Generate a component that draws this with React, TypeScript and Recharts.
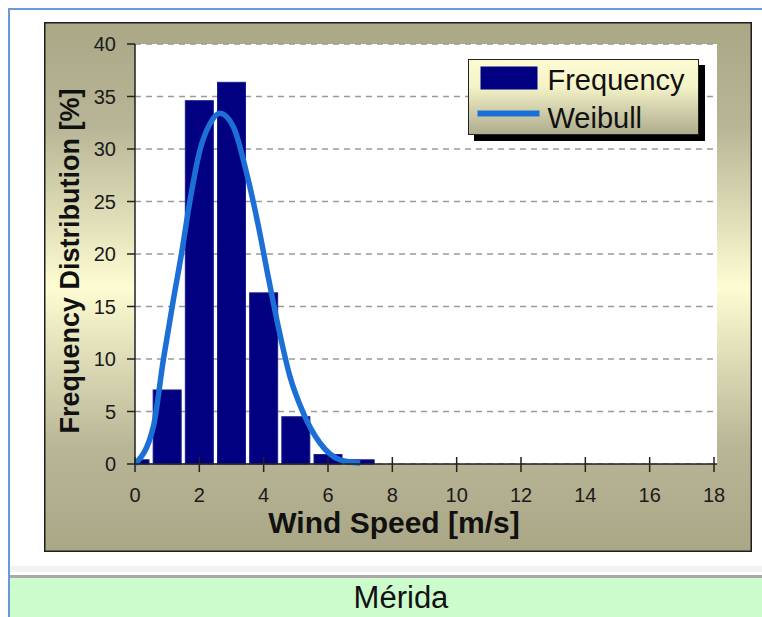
import {
  Bar,
  CartesianGrid,
  ComposedChart,
  Label,
  Legend,
  Line,
  XAxis,
  YAxis,
} from "recharts";

const FONT = "'Liberation Sans', Arial, Helvetica, sans-serif";

// histogram, 1 m/s bins (bin centre in m/s) -> % of time
const binCentres = [0, 1, 2, 3, 4, 5, 6, 7];
const frequency = [0.4, 7.05, 34.6, 36.35, 16.3, 4.5, 0.9, 0.4];

// weibull fit
const weibullX = [0, 0.57, 0.88, 1.19, 1.45, 1.71, 2.02, 2.33, 2.64, 3.06, 3.47, 3.84, 4.15, 4.46, 4.82, 5.24, 5.75, 6.38, 7.0];
const weibullY = [0, 3.55, 9.9, 15.6, 20.1, 25.1, 29.9, 32.4, 33.4, 32.1, 27.7, 22.6, 17.7, 13.0, 8.3, 4.8, 2.0, 0.4, 0.1];

const xTicks = [0, 2, 4, 6, 8, 10, 12, 14, 16, 18];
const yTicks = [0, 5, 10, 15, 20, 25, 30, 35, 40];

const bins = binCentres.map((x, i) => ({ x, freq: frequency[i] }));
const weibull = weibullX.map((x, i) => ({ x, weibull: weibullY[i] }));

const AXIS = { stroke: "#222", strokeWidth: 1.5 };
const BAR_W = 28;

function XTick(props: any) {
  const { x, y, payload } = props;
  const axisY = y - 24;
  return (
    <g>
      <line x1={x} x2={x} y1={axisY - 7} y2={axisY + 8} stroke="#222" strokeWidth={1.5} />
      <text x={x} y={y} dy={14} textAnchor="middle" fontSize={20} fill="#1a1a1a" fontFamily={FONT}>
        {payload.value}
      </text>
    </g>
  );
}

// recharts squeezes bars on a numeric axis; keep the centre it gives, fix the width
function BinBar(props: any) {
  const { x, y, width, height } = props;
  if (height == null || height <= 0) return null;
  const cx = x + width / 2;
  return <rect x={cx - BAR_W / 2} y={y} width={BAR_W} height={height} fill="#000080" stroke="#1c1c8c" strokeWidth={1} />;
}

function YTitle(props: any) {
  const vb = props.viewBox;
  const cx = 26;
  const cy = vb.y + vb.height / 2 + 7;
  return (
    <text
      x={cx}
      y={cy}
      transform={`rotate(-90 ${cx} ${cy})`}
      textAnchor="middle"
      dominantBaseline="central"
      fontSize={27}
      fontWeight="bold"
      fill="#111"
      fontFamily={FONT}
    >
      Frequency Distribution [%]
    </text>
  );
}

function XTitle() {
  return (
    <text x={350} y={511} textAnchor="middle" fontSize={30} fontWeight="bold" fill="#111" fontFamily={FONT}>
      Wind Speed [m/s]
    </text>
  );
}

function LegendBox(props: any) {
  const payload = props.payload || [];
  return (
    <div
      style={{
        width: 231,
        height: 76,
        boxSizing: "border-box",
        border: "1.5px solid #222",
        background: "linear-gradient(#fdfbd2 0%, #f5f3c8 35%, #aeac8e 100%)",
        boxShadow: "6px 6px 0 #000",
      }}
    >
      <svg width={228} height={73} style={{ display: "block" }}>
        {payload.map((entry: any, i: number) => {
          const base = 29.5 + i * 38;
          return (
            <g key={entry.value}>
              {entry.type === "line" ? (
                <line x1={8.5} x2={70.5} y1={base - 14} y2={base - 14} stroke={entry.color} strokeWidth={6} />
              ) : (
                <rect x={11.5} y={base - 23} width={57} height={23} fill={entry.color} />
              )}
              <text x={78.5} y={base} fontSize={29} fill="#111" fontFamily={FONT}>
                {entry.value}
              </text>
            </g>
          );
        })}
      </svg>
    </div>
  );
}

export default function App() {
  return (
    <div style={{ position: "relative", width: 762, height: 617, background: "#fff", overflow: "hidden", fontFamily: FONT }}>
      <style>{"body{margin:0;overflow:hidden}"}</style>
      {/* page frame */}
      <div style={{ position: "absolute", left: 8, top: 8, width: 754, height: 2, background: "#6b98d8" }} />
      <div style={{ position: "absolute", left: 8, top: 8, width: 2, height: 609, background: "#6b98d8" }} />
      <div style={{ position: "absolute", left: 10, top: 566, width: 752, height: 6, background: "#f2f2f2" }} />
      <div style={{ position: "absolute", left: 10, top: 575, width: 752, height: 3, background: "#a9a9a9" }} />
      <div
        style={{
          position: "absolute",
          left: 10,
          top: 578,
          width: 752,
          height: 39,
          background: "#ccfccc",
          textAlign: "center",
          paddingLeft: 30,
          boxSizing: "border-box",
          fontSize: 31,
          lineHeight: "39px",
          color: "#111",
        }}
      >
        Mérida
      </div>

      {/* chart frame */}
      <div
        style={{
          position: "absolute",
          left: 44,
          top: 22,
          width: 708,
          height: 530,
          background: "linear-gradient(#a9a786 0%, #b8b696 20%, #fdfcd2 50%, #b8b696 80%, #a9a786 100%)",
          boxShadow: "inset 0 0 0 1.5px #1e1e1e",
        }}
      >
        <ComposedChart width={708} height={530} data={bins} margin={{ top: 22, right: 35, left: 0, bottom: 0 }}>
          <CartesianGrid vertical={false} fill="#fff" fillOpacity={1} stroke="#9a9a9a" strokeWidth={1.5} strokeDasharray="6 5" />
          <XAxis
            dataKey="x"
            type="number"
            domain={[0, 18]}
            ticks={xTicks}
            interval={0}
            allowDataOverflow
            padding={{ left: 0, right: 3 }}
            height={88}
            tickSize={8}
            tickMargin={16}
            tickLine={false}
            axisLine={AXIS}
            tick={(p: any) => <XTick {...p} />}
          >
            <Label content={<XTitle />} />
          </XAxis>
          <XAxis xAxisId="top" orientation="top" type="number" domain={[0, 18]} height={0} tick={false} tickLine={false} axisLine={AXIS} />
          <YAxis
            type="number"
            domain={[0, 40]}
            ticks={yTicks}
            interval={0}
            width={91}
            tickSize={8}
            tickMargin={11}
            tickLine={AXIS}
            axisLine={AXIS}
            tick={{ fontSize: 20, fill: "#1a1a1a", fontFamily: FONT }}
          >
            <Label content={(p: any) => <YTitle {...p} />} />
          </YAxis>
          <YAxis yAxisId="right" orientation="right" domain={[0, 40]} width={0} tick={false} tickLine={false} axisLine={AXIS} />
          <Legend
            verticalAlign="middle"
            align="center"
            layout="horizontal"
            wrapperStyle={{ left: 424, top: 37, width: 231, height: 76 }}
            content={(p: any) => <LegendBox {...p} />}
          />
          <Bar dataKey="freq" name="Frequency" fill="#000080" shape={(p: any) => <BinBar {...p} />} isAnimationActive={false} />
          <Line
            data={weibull}
            dataKey="weibull"
            name="Weibull"
            type="monotone"
            stroke="#1c6fd6"
            strokeWidth={5.5}
            dot={false}
            activeDot={false}
            isAnimationActive={false}
          />
        </ComposedChart>
      </div>
    </div>
  );
}
